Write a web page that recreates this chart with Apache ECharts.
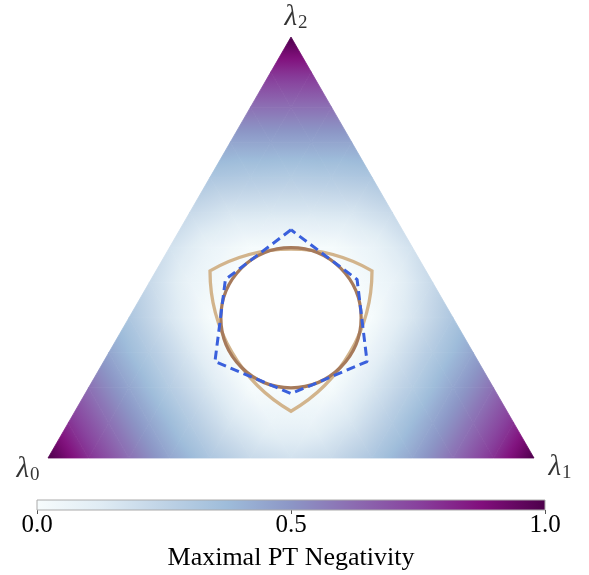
<!DOCTYPE html>
<html lang="en">
<head>
  <meta charset="UTF-8" />
  <title>Maximal PT Negativity</title>
  <script src="https://cdn.jsdelivr.net/npm/echarts@6/dist/echarts.min.js"></script>
  <style>
    html, body { margin: 0; padding: 0; background: #fff; }
    #chart { width: 589px; height: 575px; }
  </style>
</head>
<body>
  <div id="chart"></div>
  <script>
    // negativity read on a barycentric lattice (step 1/12), rows from the λ0-λ1 edge up to λ2
    const latticeSteps = 12;
    const negRows = [
      [1.00, 0.79, 0.61, 0.45, 0.32, 0.22, 0.18, 0.22, 0.32, 0.45, 0.61, 0.79, 1.00],
      [0.79, 0.61, 0.45, 0.30, 0.16, 0.07, 0.07, 0.16, 0.30, 0.45, 0.61, 0.79],
      [0.61, 0.45, 0.29, 0.15, 0.01, 0.00, 0.01, 0.15, 0.29, 0.45, 0.61],
      [0.45, 0.30, 0.15, 0.00, 0.00, 0.00, 0.00, 0.15, 0.30, 0.45],
      [0.32, 0.16, 0.01, 0.00, 0.00, 0.00, 0.01, 0.16, 0.32],
      [0.22, 0.07, 0.00, 0.00, 0.00, 0.00, 0.07, 0.22],
      [0.18, 0.07, 0.01, 0.00, 0.01, 0.07, 0.18],
      [0.22, 0.16, 0.15, 0.15, 0.16, 0.22],
      [0.32, 0.30, 0.29, 0.30, 0.32],
      [0.45, 0.45, 0.45, 0.45],
      [0.61, 0.61, 0.61],
      [0.79, 0.79],
      [1.00]
    ];

    // shapes in barycentric coordinates (λ0, λ1, λ2)
    const circleCenter = [1 / 3, 1 / 3, 1 / 3];
    const circleRadius = 0.1443; // in units of the triangle side
    const reuleauxVertices = [[4 / 9, 1 / 9, 4 / 9], [1 / 9, 4 / 9, 4 / 9], [4 / 9, 4 / 9, 1 / 9]];
    const starVertices = [
      [0.229, 0.229, 0.542], [0.424, 0.153, 0.424], [0.542, 0.229, 0.229],
      [0.424, 0.424, 0.153], [0.229, 0.542, 0.229], [0.153, 0.424, 0.424]
    ];
    const cornerNames = ['0', '1', '2'];
    const cbarTicks = [0, 0.5, 1];

    const H = Math.sqrt(3) / 2;
    const toXY = (l) => [l[1] + l[2] / 2, l[2] * H];

    // BuPu
    const bupu = ['#f7fcfd', '#e0ecf4', '#bfd3e6', '#9ebcda', '#8c96c6', '#8c6bb1', '#88419d', '#810f7c', '#4d004b'];
    const hex2rgb = (h) => [1, 3, 5].map(i => parseInt(h.substr(i, 2), 16));
    const bupuRgb = bupu.map(hex2rgb);
    function cmap(v) {
      v = Math.max(0, Math.min(1, v));
      const p = v * (bupu.length - 1);
      const i = Math.min(bupu.length - 2, Math.floor(p));
      const t = p - i;
      const a = bupuRgb[i], b = bupuRgb[i + 1];
      return 'rgb(' + a.map((c, k) => Math.round(c + (b[k] - c) * t)).join(',') + ')';
    }

    // small lattice triangles, each [x0,y0,v0,x1,y1,v1,x2,y2,v2]
    const pt = (j, k) => [j / latticeSteps + k / (2 * latticeSteps), k / latticeSteps * H, negRows[k][j]];
    const tris = [];
    for (let k = 0; k < latticeSteps; k++) {
      for (let j = 0; j + k < latticeSteps; j++) {
        tris.push([].concat(pt(j, k), pt(j + 1, k), pt(j, k + 1)));
        if (j + k < latticeSteps - 1) {
          tris.push([].concat(pt(j + 1, k), pt(j, k + 1), pt(j + 1, k + 1)));
        }
      }
    }

    function triFill(p, v) {
      const vmin = Math.min(...v), vmax = Math.max(...v);
      if (vmax - vmin < 1e-4) return cmap(vmin);
      const e1x = p[1][0] - p[0][0], e1y = p[1][1] - p[0][1];
      const e2x = p[2][0] - p[0][0], e2y = p[2][1] - p[0][1];
      const d1 = v[1] - v[0], d2 = v[2] - v[0];
      const det = e1x * e2y - e1y * e2x;
      const a = (d1 * e2y - e1y * d2) / det;
      const b = (e1x * d2 - d1 * e2x) / det;
      const g2 = a * a + b * b;
      const sx = p[0][0] + a * (vmin - v[0]) / g2, sy = p[0][1] + b * (vmin - v[0]) / g2;
      const ex = p[0][0] + a * (vmax - v[0]) / g2, ey = p[0][1] + b * (vmax - v[0]) / g2;
      const stops = [];
      for (let s = 0; s <= 6; s++) {
        stops.push({ offset: s / 6, color: cmap(vmin + (s / 6) * (vmax - vmin)) });
      }
      return new echarts.graphic.LinearGradient(sx, sy, ex, ey, stops, true);
    }

    const serif = 'Liberation Serif';
    const chart = echarts.init(document.getElementById('chart'));

    const cornerData = [0, 1, 2].map(n => {
      const l = [0, 0, 0]; l[n] = 1;
      return toXY(l);
    });
    const cornerOffsets = [[-20, 11], [26, 9], [5, -20]];

    chart.setOption({
      animation: false,
      grid: [
        { left: 48, top: 37, width: 486, height: 421 },
        { left: 37, top: 500, width: 508, height: 10 }
      ],
      xAxis: [
        { gridIndex: 0, type: 'value', min: 0, max: 1, show: false },
        {
          gridIndex: 1, type: 'value', min: 0, max: 1, interval: 0.5,
          axisLine: { show: false }, splitLine: { show: false },
          axisTick: { show: true, length: 4, lineStyle: { color: '#555' } },
          axisLabel: {
            fontFamily: serif, fontSize: 25, color: '#000', margin: 3,
            formatter: (v) => cbarTicks.includes(v) ? v.toFixed(1) : ''
          },
          name: 'Maximal PT Negativity', nameLocation: 'middle', nameGap: 35,
          nameTextStyle: { fontFamily: serif, fontSize: 26, color: '#000' }
        }
      ],
      yAxis: [
        { gridIndex: 0, type: 'value', min: 0, max: H, show: false },
        { gridIndex: 1, type: 'value', min: 0, max: 1, show: false }
      ],
      series: [
        {
          type: 'custom', xAxisIndex: 0, yAxisIndex: 0, data: tris, silent: true,
          renderItem: (params, api) => {
            const p = [], v = [];
            for (let n = 0; n < 3; n++) {
              p.push(api.coord([api.value(3 * n), api.value(3 * n + 1)]));
              v.push(api.value(3 * n + 2));
            }
            const fill = triFill(p, v);
            return { type: 'polygon', shape: { points: p }, style: { fill: fill, stroke: fill, lineWidth: 0.8 } };
          }
        },
        {
          // white disk inside the circle
          type: 'custom', xAxisIndex: 0, yAxisIndex: 0, silent: true, z: 3,
          data: [toXY(circleCenter).concat(circleRadius)],
          renderItem: (params, api) => {
            const c = api.coord([api.value(0), api.value(1)]);
            const r = api.size([api.value(2), 0])[0];
            return { type: 'circle', shape: { cx: c[0], cy: c[1], r: r }, style: { fill: '#ffffff' } };
          }
        },
        {
          type: 'custom', xAxisIndex: 0, yAxisIndex: 0, silent: true, z: 4,
          data: [[].concat(...reuleauxVertices.map(toXY))],
          renderItem: (params, api) => {
            const p = [0, 1, 2].map(n => api.coord([api.value(2 * n), api.value(2 * n + 1)]));
            const r = Math.hypot(p[1][0] - p[0][0], p[1][1] - p[0][1]);
            const arc = (q) => ' A ' + r + ' ' + r + ' 0 0 1 ' + q[0] + ' ' + q[1];
            const d = 'M ' + p[0][0] + ' ' + p[0][1] + arc(p[1]) + arc(p[2]) + arc(p[0]) + ' Z';
            return {
              type: 'path', shape: { pathData: d },
              style: { fill: 'none', stroke: '#d2b48c', lineWidth: 3.3 }
            };
          }
        },
        {
          type: 'custom', xAxisIndex: 0, yAxisIndex: 0, silent: true, z: 5,
          data: [toXY(circleCenter).concat(circleRadius)],
          renderItem: (params, api) => {
            const c = api.coord([api.value(0), api.value(1)]);
            const r = api.size([api.value(2), 0])[0];
            return {
              type: 'circle', shape: { cx: c[0], cy: c[1], r: r },
              style: { fill: 'none', stroke: '#a67a5b', lineWidth: 3.2 }
            };
          }
        },
        {
          type: 'line', xAxisIndex: 0, yAxisIndex: 0, silent: true, z: 6,
          data: starVertices.concat([starVertices[0]]).map(toXY),
          symbol: 'none', smooth: false,
          lineStyle: { color: '#3a60dc', width: 3, type: [9, 5] }
        },
        {
          type: 'scatter', xAxisIndex: 0, yAxisIndex: 0, silent: true, z: 7,
          symbolSize: 0,
          data: cornerData.map((d, n) => ({
            value: d,
            label: {
              show: true, position: cornerOffsets[n], align: 'center', verticalAlign: 'middle',
              formatter: '{l|λ}{s|' + cornerNames[n] + '}',
              rich: {
                l: { fontFamily: serif, fontStyle: 'italic', fontSize: 29, color: '#000', lineHeight: 31, verticalAlign: 'middle' },
                s: { fontFamily: serif, fontSize: 19, color: '#000', lineHeight: 31, verticalAlign: 'bottom', padding: [0, 0, 0, 1] }
              }
            }
          }))
        },
        {
          type: 'custom', xAxisIndex: 1, yAxisIndex: 1, silent: true,
          data: [[0, 0, 1, 1]],
          renderItem: (params, api) => {
            const a = api.coord([api.value(0), api.value(1)]);
            const b = api.coord([api.value(2), api.value(3)]);
            const stops = bupu.map((c, i) => ({ offset: i / (bupu.length - 1), color: c }));
            return {
              type: 'rect',
              shape: { x: a[0], y: b[1], width: b[0] - a[0], height: a[1] - b[1] },
              style: { fill: new echarts.graphic.LinearGradient(0, 0, 1, 0, stops), stroke: '#aaaaaa', lineWidth: 1 }
            };
          }
        }
      ]
    });
  </script>
</body>
</html>
